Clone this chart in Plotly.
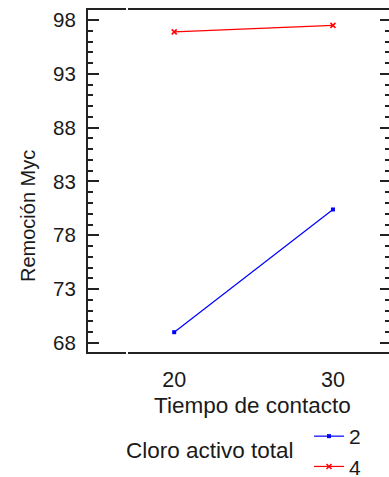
import plotly.graph_objects as go

tiempo = [20, 30]
series_names = ["2", "4"]
remocion_2 = [69.0, 80.4]
remocion_4 = [96.9, 97.5]
y_ticks = [68, 73, 78, 83, 88, 93, 98]
x_ticks = [20, 30]

W, H = 389, 477
L, R, T, B = 88, 0, 10, 125
pw, ph = W - L - R, H - T - B

def px(xp):
    return (xp - L) / pw

def py(yp):
    return (H - B - yp) / ph

FONT = "Liberation Sans, Arial, sans-serif"
TXT = "#1a1a1a"

fig = go.Figure()
fig.add_trace(go.Scatter(
    x=tiempo, y=remocion_2, name=series_names[0], mode="lines+markers",
    line=dict(color="#0000ff", width=1.2),
    marker=dict(symbol="square", size=4, color="#0000ff"),
))
fig.add_trace(go.Scatter(
    x=tiempo, y=remocion_4, name=series_names[1], mode="lines+markers",
    line=dict(color="#ff0000", width=1.2),
    marker=dict(symbol="x-thin", size=5, color="#ff0000",
                line=dict(color="#ff0000", width=1.5)),
))
# invisible trace for the right-hand y axis ticks
fig.add_trace(go.Scatter(x=[tiempo[0]], y=[remocion_2[0]], yaxis="y2",
                         mode="markers", marker=dict(opacity=0),
                         showlegend=False, hoverinfo="skip"))

yrange = [67.16, 98.93]
fig.update_layout(
    width=W, height=H,
    margin=dict(l=L, r=R, t=T, b=B, autoexpand=False),
    paper_bgcolor="white", plot_bgcolor="white",
    font=dict(family=FONT, size=20, color=TXT),
    xaxis=dict(range=[14.57, 33.53], tickvals=x_ticks, showgrid=False,
               zeroline=False, showline=True, linecolor="#222", linewidth=2,
               mirror=True, ticks="", ticklabelstandoff=7,
               tickfont=dict(size=21.5, color=TXT)),
    yaxis=dict(range=yrange, tickvals=y_ticks, showgrid=False, zeroline=False,
               showline=True, linecolor="#222", linewidth=2, mirror=False,
               ticks="inside", ticklen=11, tickwidth=2, tickcolor="#222",
               minor=dict(dtick=1, tick0=68, ticks="inside", ticklen=5,
                          tickwidth=2, tickcolor="#222"),
               ticklabelstandoff=6, tickfont=dict(size=20.5, color=TXT)),
    yaxis2=dict(range=yrange, overlaying="y", side="right", anchor="x",
                tickvals=y_ticks, showticklabels=False, showgrid=False,
                zeroline=False, showline=False,
                ticks="inside", ticklen=9, tickwidth=2, tickcolor="#222",
                minor=dict(dtick=1, tick0=68, ticks="inside", ticklen=4,
                           tickwidth=2, tickcolor="#222")),
    legend=dict(xref="container", yref="container",
                x=309 / W, y=1 - 416 / H, xanchor="left", yanchor="top",
                font=dict(size=21, color=TXT), bgcolor="rgba(0,0,0,0)",
                tracegroupgap=0, itemwidth=30),
    showlegend=True,
    annotations=[
        dict(text="Tiempo de contacto", x=px(252), y=py(405), xref="paper",
             yref="paper", showarrow=False, xanchor="center", yanchor="middle",
             font=dict(size=22.5, color=TXT)),
        dict(text="Remoción Myc", x=px(28), y=py(216), xref="paper",
             yref="paper", showarrow=False, textangle=-90, xanchor="center",
             yanchor="middle", font=dict(size=20, color=TXT)),
        dict(text="Cloro activo total", x=px(124), y=py(450), xref="paper",
             yref="paper", showarrow=False, xanchor="left", yanchor="middle",
             font=dict(size=22.5, color=TXT)),
    ],
    shapes=[
        dict(type="line", xref="paper", yref="paper", x0=px(127), x1=px(127),
             y0=-0.01, y1=0.01, line=dict(color="white", width=2),
             layer="above"),
        dict(type="line", xref="paper", yref="paper", x0=px(127), x1=px(127),
             y0=0.99, y1=1.01, line=dict(color="white", width=2),
             layer="above"),
    ],
)

fig.write_html("out.html", config={"displayModeBar": False},
               post_script="document.body.style.margin='0';"
                           "document.body.style.overflow='hidden';")
